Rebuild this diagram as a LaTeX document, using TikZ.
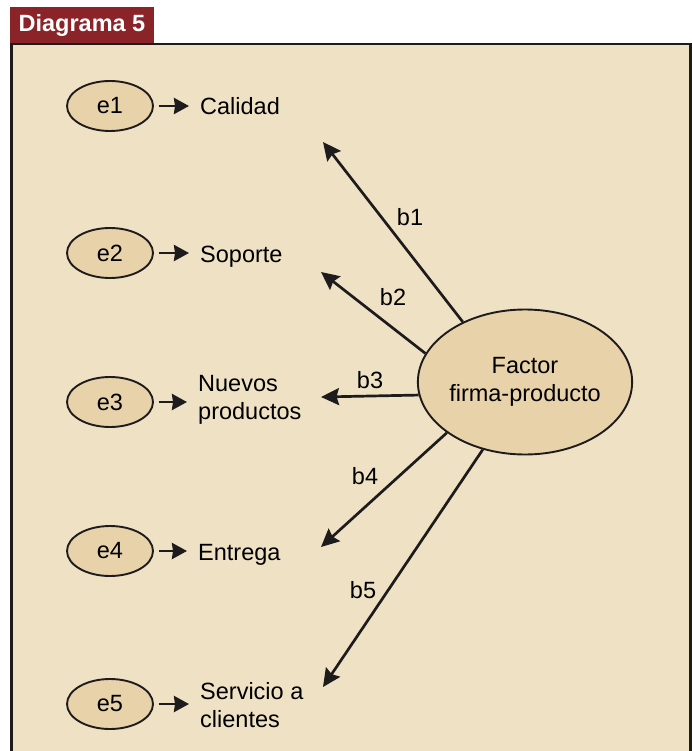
\documentclass[tikz,border=0pt]{standalone}
\usepackage{fontspec}
\setmainfont{Liberation Sans}
\usepackage{xcolor}
\usetikzlibrary{shapes.geometric, arrows.meta}
\definecolor{fondo}{RGB}{239,225,196}
\definecolor{relleno}{RGB}{232,210,170}
\definecolor{rojotit}{RGB}{139,36,40}
\definecolor{tinta}{RGB}{30,27,28}

\begin{document}
\begin{tikzpicture}[x=1pt,y=-1pt,font=\fontsize{23.5}{28}\selectfont,
    error/.style={ellipse,draw=tinta,fill=relleno,line width=1.9pt,minimum width=86pt,minimum height=50pt,inner sep=0pt},
    factor/.style={ellipse,draw=tinta,fill=relleno,line width=1.9pt,minimum width=213pt,minimum height=145pt,align=center,inner sep=0pt},
    item/.style={inner sep=0pt,align=left},
    carga/.style={draw=tinta,line width=2.7pt,-{Stealth[length=18pt,width=17pt,inset=2.5pt]}},
    flecha/.style={draw=tinta,line width=2.8pt,-{Stealth[length=15pt,width=16pt,inset=1pt]},shorten <=5pt,shorten >=11pt}]
    \useasboundingbox (0,0) rectangle (692,751);
    \clip (0,0) rectangle (692,751);

    \fill[fondo] (10,43) rectangle (692,760);
    \draw[tinta,line width=2.8pt] (11.5,760) -- (11.5,44) -- (690.5,44) -- (690.5,760);
    \node[fill=rojotit,text=white,font=\fontsize{23.5}{28}\selectfont\bfseries,minimum width=144pt,minimum height=36pt,inner sep=0pt] (cab) at (82,25) {Diagrama 5};

    \node[error] (e1) at (110,106) {e1};
    \node[error] (e2) at (110,253) {e2};
    \node[error] (e3) at (110,402) {e3};
    \node[error] (e4) at (110,551) {e4};
    \node[error] (e5) at (110,704) {e5};

    \node[item,anchor=base west] (c1) at (200,115) {Calidad};
    \node[item,anchor=base west] (c2) at (200,262) {Soporte};
    \node[item,anchor=west] (c3) at (198,400) {Nuevos\\productos};
    \node[item,anchor=base west] (c4) at (198,560) {Entrega};
    \node[item,anchor=west] (c5) at (200,705) {Servicio a\\clientes};

    \foreach \i in {1,...,5}
        \draw[flecha] (e\i) -- (e\i -| c\i.west);

    \node[factor] (f) at (525,382) {Factor\\firma-producto};

    \coordinate (t1) at (323,142);
    \coordinate (t2) at (321,272);
    \coordinate (t3) at (321,397);
    \coordinate (t4) at (321,547);
    \coordinate (t5) at (323,687);

    \draw[carga] (f.136) -- (t1);
    \draw[carga] (f.164) -- (t2);
    \draw[carga] (f.187) -- (t3);
    \draw[carga] (f.213) -- (t4);
    \draw[carga] (f.238) -- (t5);

    \foreach \i/\x/\y in {1/410/217, 2/393/297, 3/370/380, 4/365/476, 5/363/590}
        \node (b\i) at (\x,\y) {b\i};
\end{tikzpicture}
\end{document}
